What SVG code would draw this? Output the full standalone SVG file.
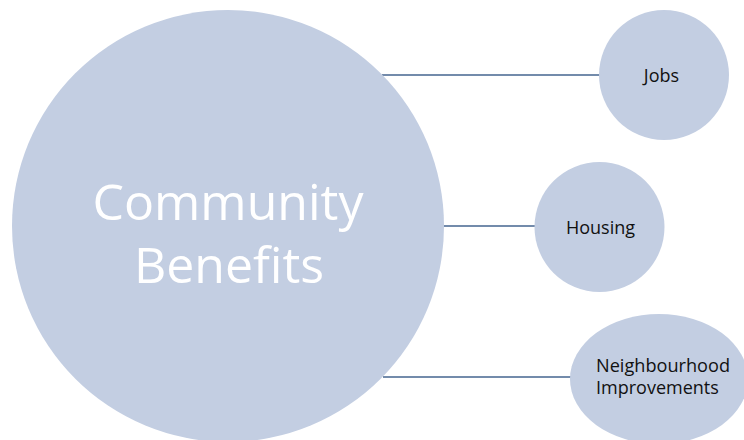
<svg xmlns="http://www.w3.org/2000/svg" width="744" height="440" viewBox="0 0 744 440">
  <style>
    .node { fill: #C3CEE2; }
    .conn { stroke: #44658F; stroke-width: 1.3; fill: none; }
    .lbl { font-family: "Open Sans", "Liberation Sans", sans-serif; font-size: 18px; fill: #111111; }
    .big { font-family: "Open Sans", "Liberation Sans", sans-serif; font-size: 50px; fill: #FFFFFF; text-anchor: middle; }
  </style>
  <rect width="744" height="440" fill="#FFFFFF"/>
  <g id="connectors">
    <line class="conn" x1="382" y1="75" x2="600" y2="75"/>
    <line class="conn" x1="443" y1="226" x2="536" y2="226"/>
    <line class="conn" x1="383" y1="377" x2="571" y2="377"/>
  </g>
  <g id="community-benefits">
    <circle class="node" cx="228" cy="226" r="216"/>
    <text class="big" x="228" y="220">Community</text>
    <text class="big" x="229" y="283">Benefits</text>
  </g>
  <g id="jobs">
    <circle class="node" cx="664" cy="75" r="65"/>
    <text class="lbl" x="661.5" y="82" text-anchor="middle">Jobs</text>
  </g>
  <g id="housing">
    <circle class="node" cx="599.5" cy="227" r="65"/>
    <text class="lbl" x="600.5" y="234" text-anchor="middle">Housing</text>
  </g>
  <g id="neighbourhood-improvements">
    <ellipse class="node" cx="659" cy="379" rx="89" ry="65"/>
    <text class="lbl" x="596" y="372" textLength="134" lengthAdjust="spacingAndGlyphs">Neighbourhood</text>
    <text class="lbl" x="596" y="394">Improvements</text>
  </g>
</svg>
